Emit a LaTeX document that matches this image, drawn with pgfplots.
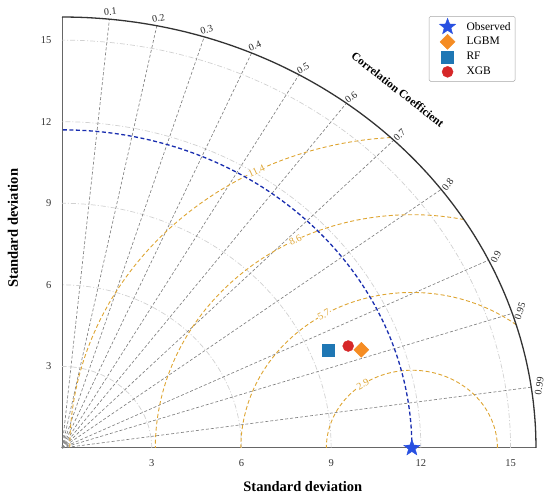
\documentclass[border=0pt]{standalone}
\usepackage{fontspec}
\setmainfont{Liberation Serif}
\usepackage{pgfplots}
\pgfplotsset{compat=1.18}
\definecolor{obsblue}{RGB}{40,80,225}
\definecolor{lgbm}{RGB}{245,140,35}
\definecolor{rfblue}{RGB}{31,119,180}
\definecolor{xgbred}{RGB}{214,39,40}
\definecolor{rmsc}{RGB}{222,165,50}
\definecolor{refblue}{RGB}{25,45,175}
\pgfdeclareplotmark{fstar}{%
  \pgfpathmoveto{\pgfpointpolar{90}{\pgfplotmarksize}}%
  \pgfpathlineto{\pgfpointpolar{126}{0.42\pgfplotmarksize}}%
  \pgfpathlineto{\pgfpointpolar{162}{\pgfplotmarksize}}%
  \pgfpathlineto{\pgfpointpolar{198}{0.42\pgfplotmarksize}}%
  \pgfpathlineto{\pgfpointpolar{234}{\pgfplotmarksize}}%
  \pgfpathlineto{\pgfpointpolar{270}{0.42\pgfplotmarksize}}%
  \pgfpathlineto{\pgfpointpolar{306}{\pgfplotmarksize}}%
  \pgfpathlineto{\pgfpointpolar{342}{0.42\pgfplotmarksize}}%
  \pgfpathlineto{\pgfpointpolar{18}{\pgfplotmarksize}}%
  \pgfpathlineto{\pgfpointpolar{54}{0.42\pgfplotmarksize}}%
  \pgfpathclose\pgfusepathqfillstroke}
\pgfdeclareplotmark{sqdiamond}{%
  \pgfpathmoveto{\pgfqpoint{0pt}{\pgfplotmarksize}}%
  \pgfpathlineto{\pgfqpoint{\pgfplotmarksize}{0pt}}%
  \pgfpathlineto{\pgfqpoint{0pt}{-\pgfplotmarksize}}%
  \pgfpathlineto{\pgfqpoint{-\pgfplotmarksize}{0pt}}%
  \pgfpathclose\pgfusepathqfillstroke}
\begin{document}
\begin{tikzpicture}
\useasboundingbox (0pt,0pt) rectangle (550pt,500pt);
\begin{axis}[
  at={(62pt,52pt)}, anchor=south west,
  scale only axis, width=474pt, height=431pt,
  xmin=0, xmax=15.85, ymin=0, ymax=15.85,
  axis lines=left,
  axis line style={-, draw=black!60, line width=1pt},
  xtick={3,6,9,12,15}, ytick={3,6,9,12,15},
  major tick length=0pt,
  tick label style={font=\fontsize{10.5}{12}\selectfont, text=black!80},
  /pgf/number format/assume math mode=true,
  x tick label style={yshift=-8pt},
  y tick label style={xshift=-7pt},
  clip=false,
  legend style={at={(0.774,1.002)}, anchor=north west, draw=black!35,
    rounded corners=1.5pt, font=\fontsize{11.5}{12.5}\selectfont,
    inner xsep=2.5pt, inner ysep=2pt, row sep=0pt, cells={anchor=west}},
  legend image code/.code={%
    \path[draw=none, fill=none] (0pt,-7.5pt) rectangle (33pt,7.5pt);
    \draw[#1] plot coordinates {(16pt,0pt)};},
  rmsline/.style={draw=rmsc, line width=0.9pt, dash pattern=on 4pt off 2.5pt},
  stdline/.style={draw=black!18, line width=0.7pt, dash pattern=on 5pt off 2pt on 1pt off 2pt},
]
% standard deviation arcs
\pgfplotsinvokeforeach{3,6,9,12,15}{
  \addplot[stdline, forget plot, domain=0:90, samples=91] ({#1*cos(x)},{#1*sin(x)});
}
% correlation rays
\pgfplotsinvokeforeach{0.1,0.2,0.3,0.4,0.5,0.6,0.7,0.8,0.9,0.95,0.99}{
  \draw[black!50, line width=0.65pt, dash pattern=on 3pt off 2pt] (axis cs:0,0) -- (axis cs:{15.85*#1},{15.85*sqrt(1-#1*#1)});
  \node[font=\fontsize{10}{12}\selectfont, text=black!85, rotate={90-acos(#1)}, inner sep=0pt]
     at (axis cs:{16.12*#1},{16.12*sqrt(1-#1*#1)}) {#1};
}
% RMS contours
\addplot[rmsline, forget plot, domain=0:180, samples=120] ({11.7+2.86*cos(x)},{2.86*sin(x)});
\addplot[rmsline, forget plot, domain=52.43:180, samples=100] ({11.7+5.72*cos(x)},{5.72*sin(x)});
\addplot[rmsline, forget plot, domain=78.3:180, samples=100] ({11.7+8.58*cos(x)},{8.58*sin(x)});
\addplot[rmsline, forget plot, domain=93.54:180, samples=100] ({11.7+11.44*cos(x)},{11.44*sin(x)});
\node[fill=white, inner sep=0.5pt, text=rmsc, font=\fontsize{10}{12}\selectfont, rotate=30] at (axis cs:10.06,2.34) {2.9};
\node[fill=white, inner sep=0.5pt, text=rmsc, font=\fontsize{10}{12}\selectfont, rotate=29] at (axis cs:8.754,4.903) {5.7};
\node[fill=white, inner sep=0.5pt, text=rmsc, font=\fontsize{10}{12}\selectfont, rotate=25] at (axis cs:7.805,7.645) {8.6};
\node[fill=white, inner sep=0.5pt, text=rmsc, font=\fontsize{10}{12}\selectfont, rotate=25] at (axis cs:6.506,10.193) {11.4};
% reference std arc
\addplot[forget plot, draw=refblue, line width=1.3pt, dash pattern=on 4pt off 2.5pt, domain=0:90, samples=91] ({11.7*cos(x)},{11.7*sin(x)});
% outer arc
\addplot[forget plot, draw=black!80, line width=1.3pt, domain=0:90, samples=121] ({15.85*cos(x)},{15.85*sin(x)});
% labels
\node[font=\bfseries\fontsize{14.5}{16}\selectfont] at (axis description cs:0.508,-0.0905) {Standard deviation};
\node[font=\bfseries\fontsize{14.5}{16}\selectfont, rotate=90] at (axis description cs:-0.1034,0.51) {Standard deviation};
\node[font=\bfseries\fontsize{11.5}{13}\selectfont, rotate=-38] at (axis cs:11.23,13.18) {Correlation Coefficient};
% data points
\addplot[only marks, mark=fstar, mark size=8.5pt, color=obsblue] coordinates {(11.7,0)};
\addlegendentry{Observed}
\addplot[only marks, mark=sqdiamond, mark size=7.5pt, color=lgbm] coordinates {(10.01,3.61)};
\addlegendentry{LGBM}
\addplot[only marks, mark=square*, mark size=6pt, color=rfblue] coordinates {(8.90,3.58)};
\addlegendentry{RF}
\addplot[only marks, mark=*, mark size=5.5pt, color=xgbred] coordinates {(9.57,3.75)};
\addlegendentry{XGB}
\end{axis}
\end{tikzpicture}
\end{document}
